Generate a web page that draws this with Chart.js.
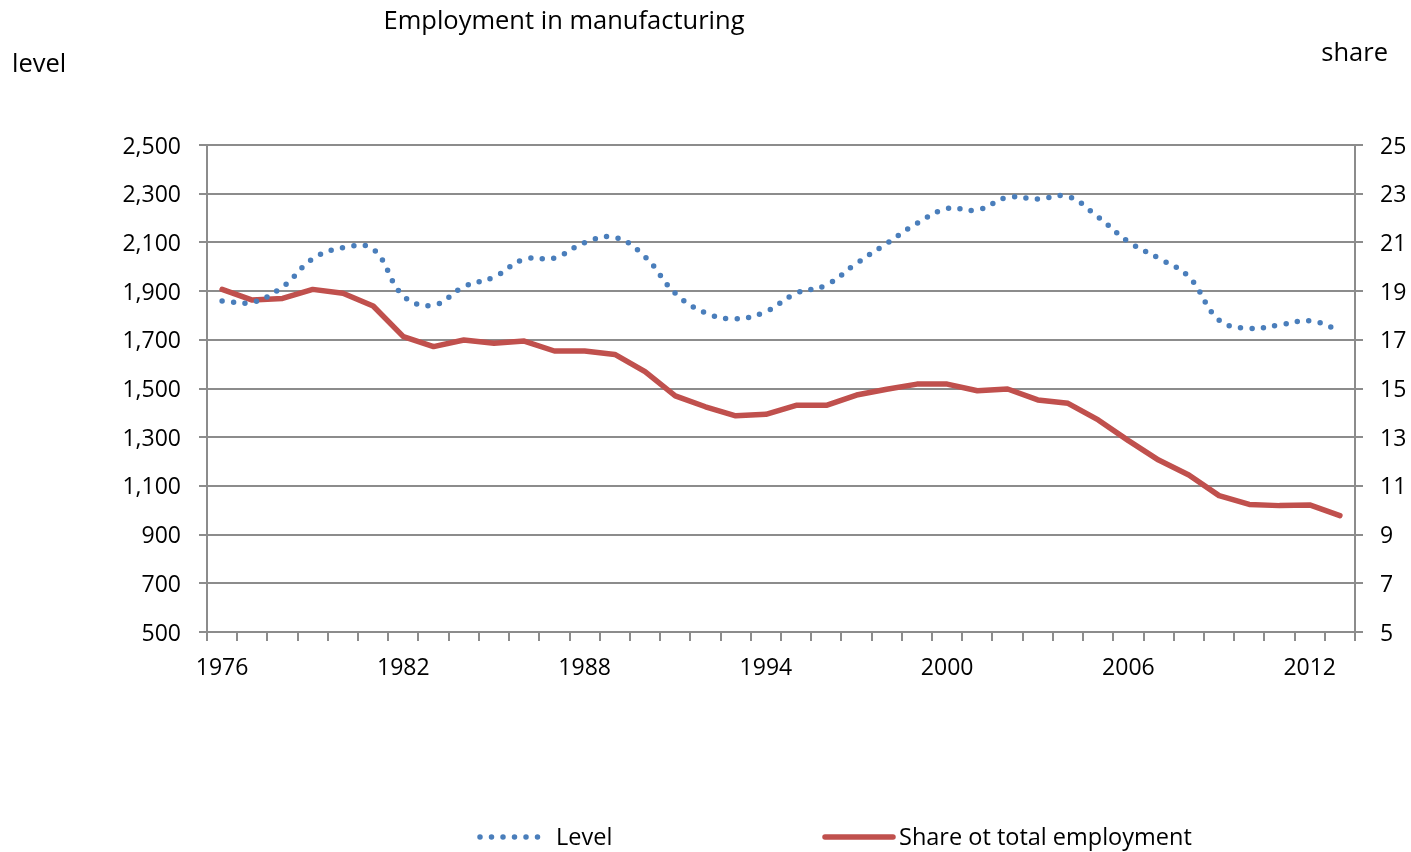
<!DOCTYPE html>
<html>
<head>
<meta charset="utf-8">
<script src="https://cdn.jsdelivr.net/npm/chart.js@4/dist/chart.umd.min.js"></script>
<style>
  html, body { margin: 0; padding: 0; background: #ffffff; }
  #wrap { width: 1411px; height: 852px; }
</style>
</head>
<body>
<div id="wrap"><canvas id="c" width="1411" height="852"></canvas></div>
<script>
// Manufacturing employment: level (thousands, left axis) and share of total employment (%, right axis)
const years = [1976, 1977, 1978, 1979, 1980, 1981, 1982, 1983, 1984, 1985,
               1986, 1987, 1988, 1989, 1990, 1991, 1992, 1993, 1994, 1995,
               1996, 1997, 1998, 1999, 2000, 2001, 2002, 2003, 2004, 2005,
               2006, 2007, 2008, 2009, 2010, 2011, 2012, 2013];

const levelValues = [1859, 1854, 1917, 2033, 2078, 2072, 1880, 1842, 1918, 1958,
                     2031, 2036, 2099, 2121, 2041, 1891, 1811, 1786, 1816, 1891,
                     1925, 2014, 2096, 2178, 2239, 2233, 2285, 2278, 2288, 2204,
                     2103, 2035, 1959, 1781, 1747, 1761, 1778, 1739];

const shareValues = [19.07, 18.63, 18.70, 19.07, 18.91, 18.39, 17.13, 16.72, 16.99, 16.86,
                     16.95, 16.54, 16.54, 16.40, 15.69, 14.70, 14.25, 13.88, 13.94, 14.31,
                     14.31, 14.73, 14.97, 15.18, 15.18, 14.91, 14.98, 14.53, 14.39, 13.71,
                     12.86, 12.06, 11.45, 10.60, 10.24, 10.19, 10.22, 9.78];

const seriesNames = ['Level', 'Share ot total employment'];
const chartTitle = 'Employment in manufacturing';
const leftAxisTitle = 'level';
const rightAxisTitle = 'share';

const levelTicks = { min: 500, max: 2500, step: 200 };
const shareTicks = { min: 5, max: 25, step: 2 };
const labelEvery = 6;

const FONT = "'Open Sans', 'DejaVu Sans', sans-serif";
const GRID = '#8c8c8c';
const BLUE = '#4a7ebb';
const RED = '#c0504d';

// Headings above the plot area and the legend row under it
const decorations = {
  id: 'decorations',
  afterDraw(chart) {
    const ctx = chart.ctx;
    ctx.save();
    ctx.fillStyle = '#000000';
    ctx.textBaseline = 'middle';
    ctx.font = '25.5px ' + FONT;
    ctx.textAlign = 'center';
    ctx.fillText(chartTitle, 564, 22);
    ctx.textAlign = 'left';
    ctx.fillText(leftAxisTitle, 12, 65);
    ctx.textAlign = 'right';
    ctx.fillText(rightAxisTitle, 1388, 54);

    // legend
    const items = [
      { ds: chart.data.datasets[0], x0: 480, x1: 543, tx: 556 },
      { ds: chart.data.datasets[1], x0: 825, x1: 893, tx: 899 }
    ];
    const ly = 837;
    items.forEach(it => {
      ctx.save();
      ctx.strokeStyle = it.ds.borderColor;
      ctx.lineWidth = it.ds.borderWidth;
      ctx.lineCap = it.ds.borderCapStyle || 'butt';
      ctx.setLineDash(it.ds.borderDash || []);
      ctx.beginPath();
      ctx.moveTo(it.x0, ly);
      ctx.lineTo(it.x1, ly);
      ctx.stroke();
      ctx.restore();
      ctx.font = '23.5px ' + FONT;
      ctx.textAlign = 'left';
      ctx.fillStyle = '#000000';
      ctx.fillText(it.ds.label, it.tx, ly + 1);
    });
    ctx.restore();
  }
};

new Chart(document.getElementById('c'), {
  type: 'line',
  data: {
    labels: years.map(String),
    datasets: [
      {
        label: seriesNames[0],
        data: levelValues,
        yAxisID: 'yLevel',
        borderColor: BLUE,
        borderWidth: 5.5,
        borderDash: [0, 11.5],
        borderCapStyle: 'round',
        tension: 0.4,
        pointRadius: 0,
        fill: false
      },
      {
        label: seriesNames[1],
        data: shareValues,
        yAxisID: 'yShare',
        borderColor: RED,
        borderWidth: 5.5,
        borderCapStyle: 'round',
        borderJoinStyle: 'round',
        tension: 0,
        pointRadius: 0,
        fill: false
      }
    ]
  },
  options: {
    responsive: false,
    animation: false,
    layout: { padding: { top: 145, bottom: 160, left: 0, right: 0 } },
    plugins: {
      legend: { display: false },
      title: { display: false },
      tooltip: { enabled: false }
    },
    scales: {
      x: {
        type: 'category',
        offset: true,
        afterFit(scale) { scale.height = 60; },
        grid: {
          offset: true,
          drawOnChartArea: false,
          drawTicks: true,
          tickLength: 9,
          color: GRID,
          lineWidth: 2
        },
        border: { display: true, color: GRID, width: 2 },
        ticks: {
          autoSkip: false,
          maxRotation: 0,
          padding: 14,
          color: '#000000',
          font: { family: FONT, size: 23 },
          callback(value, index) {
            return index % labelEvery === 0 ? this.getLabelForValue(value) : '';
          }
        }
      },
      yLevel: {
        position: 'left',
        min: levelTicks.min,
        max: levelTicks.max,
        afterFit(scale) { scale.width = 207; },
        grid: {
          drawOnChartArea: true,
          drawTicks: true,
          tickLength: 8,
          color: GRID,
          lineWidth: 2
        },
        border: { display: true, color: GRID, width: 2 },
        ticks: {
          stepSize: levelTicks.step,
          padding: 18,
          labelOffset: 2,
          color: '#000000',
          font: { family: FONT, size: 23 },
          callback(v) { return v.toLocaleString('en-US'); }
        }
      },
      yShare: {
        position: 'right',
        min: shareTicks.min,
        max: shareTicks.max,
        afterFit(scale) { scale.width = 56; },
        grid: {
          drawOnChartArea: false,
          drawTicks: true,
          tickLength: 8,
          color: GRID,
          lineWidth: 2
        },
        border: { display: true, color: GRID, width: 2 },
        ticks: {
          stepSize: shareTicks.step,
          padding: 17,
          labelOffset: 2,
          color: '#000000',
          font: { family: FONT, size: 23 },
          callback(v) { return String(v); }
        }
      }
    }
  },
  plugins: [decorations]
});
</script>
</body>
</html>
